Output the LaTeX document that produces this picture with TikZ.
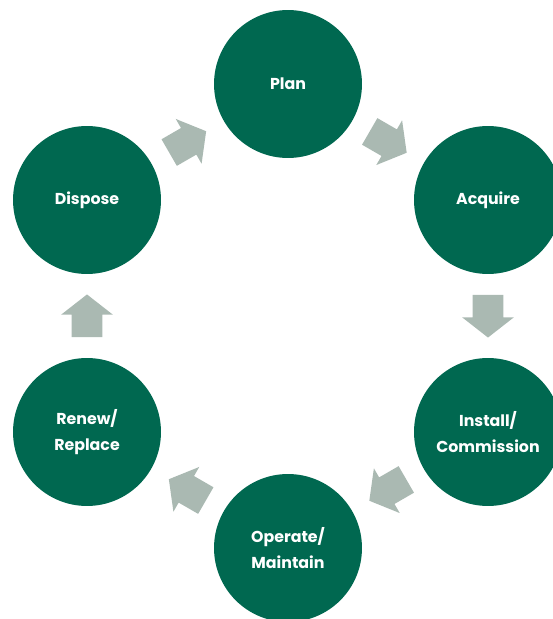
\documentclass[tikz,border=0pt]{standalone}
\usepackage{xcolor}
\usepackage{fontspec}
\setmainfont{Poppins}
\usepackage{tikz}
\usetikzlibrary{calc,shapes.arrows}

\definecolor{lifegreen}{RGB}{0,104,80}
\definecolor{lifegrey}{RGB}{170,185,178}

\begin{document}
\begin{tikzpicture}[x=0.02cm, y=0.02cm,
        stage/.style={circle, fill=lifegreen, minimum size=2.96cm, inner sep=0pt, text=white, align=center,
            font=\fontsize{9}{14.7}\selectfont\bfseries},
        flow/.style={single arrow, fill=lifegrey, draw=none, minimum height=0.82cm, minimum width=1.02cm,
            inner sep=0.3cm, single arrow head extend=0.21cm, single arrow tip angle=104}]
        \useasboundingbox (0,0) rectangle (553,619);

        \node[stage] (plan) at (288,535) {Plan};
        \node[stage] (acquire) at (488,419) {Acquire};
        \node[stage] (install) at (488,187) {Install/\\Commission};
        \node[stage] (operate) at (288,71) {Operate/\\Maintain};
        \node[stage] (renew) at (87,187) {Renew/\\Replace};
        \node[stage] (dispose) at (87,419) {Dispose};

        \node[flow, rotate=30] (toplan) at ($(dispose)!0.475!(plan)$) {};
        \node[flow, rotate=-30] (toacquire) at ($(plan)!0.475!(acquire)$) {};
        \node[flow, rotate=-90] (toinstall) at ($(acquire)!0.475!(install)$) {};
        \node[flow, rotate=210] (tooperate) at ($(install)!0.475!(operate)$) {};
        \node[flow, rotate=150] (torenew) at ($(operate)!0.475!(renew)$) {};
        \node[flow, rotate=90] (todispose) at ($(renew)!0.475!(dispose)$) {};
    \end{tikzpicture}
\end{document}
